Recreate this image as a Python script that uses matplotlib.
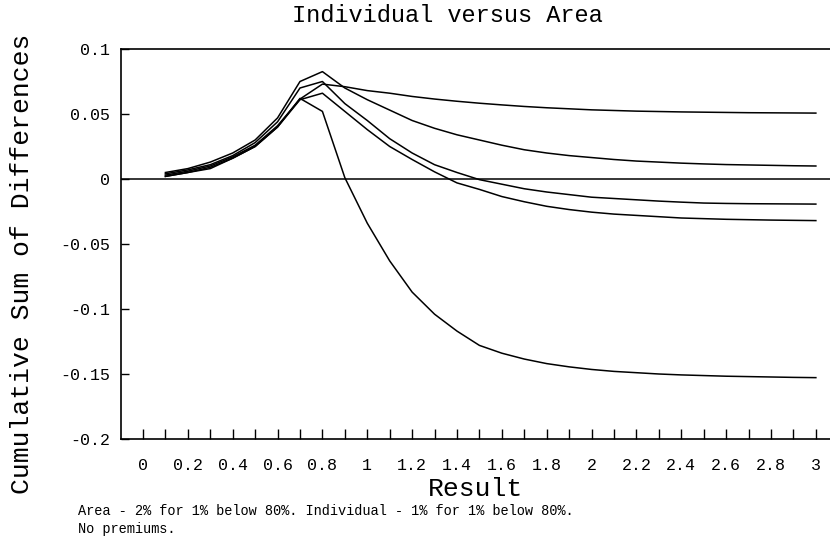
#!/usr/bin/env python3
"""
Cumulative sum of differences, individual versus area cover, by result level.
"""

import matplotlib

matplotlib.use("Agg")
import matplotlib.pyplot as plt

# result levels 0.1 .. 3.0
result = [0.1, 0.2, 0.3, 0.4, 0.5, 0.6, 0.7, 0.8, 0.9, 1.0,
          1.1, 1.2, 1.3, 1.4, 1.5, 1.6, 1.7, 1.8, 1.9, 2.0,
          2.1, 2.2, 2.3, 2.4, 2.5, 2.6, 2.7, 2.8, 2.9, 3.0]

series_a = [0.003, 0.006, 0.010, 0.017, 0.026, 0.041, 0.0615, 0.073, 0.071, 0.068,
            0.066, 0.0635, 0.0615, 0.0598, 0.0583, 0.057, 0.0558, 0.0548, 0.054, 0.0532,
            0.0527, 0.0522, 0.0519, 0.0516, 0.0514, 0.0512, 0.051, 0.0509, 0.0508, 0.0507]
series_b = [0.005, 0.008, 0.013, 0.020, 0.030, 0.047, 0.075, 0.0826, 0.070, 0.061,
            0.053, 0.045, 0.039, 0.034, 0.030, 0.026, 0.0225, 0.020, 0.018, 0.0165,
            0.015, 0.0138, 0.013, 0.0122, 0.0116, 0.0111, 0.0108, 0.0105, 0.0102, 0.010]
series_c = [0.004, 0.007, 0.011, 0.018, 0.028, 0.044, 0.070, 0.075, 0.058, 0.045,
            0.031, 0.020, 0.011, 0.005, -0.0005, -0.004, -0.0075, -0.010, -0.012, -0.014,
            -0.015, -0.016, -0.017, -0.0178, -0.0185, -0.0188, -0.019, -0.0191, -0.0192, -0.0193]
series_d = [0.002, 0.005, 0.009, 0.016, 0.025, 0.040, 0.061, 0.066, 0.052, 0.038,
            0.025, 0.015, 0.0055, -0.003, -0.008, -0.0135, -0.0175, -0.021, -0.0235, -0.0255,
            -0.027, -0.028, -0.029, -0.030, -0.0305, -0.031, -0.0313, -0.0316, -0.0318, -0.032]
series_e = [0.002, 0.005, 0.008, 0.016, 0.025, 0.040, 0.062, 0.052, 0.001, -0.034,
            -0.063, -0.087, -0.104, -0.117, -0.128, -0.134, -0.1385, -0.142, -0.1445, -0.1465,
            -0.148, -0.149, -0.150, -0.1507, -0.1512, -0.1517, -0.152, -0.1523, -0.1526, -0.1528]

x_ticks = [round(0.1 * i, 1) for i in range(31)]
x_labels = ["0", "", "0.2", "", "0.4", "", "0.6", "", "0.8", "", "1", "", "1.2", "", "1.4", "",
            "1.6", "", "1.8", "", "2", "", "2.2", "", "2.4", "", "2.6", "", "2.8", "", "3"]
y_ticks = [0.1, 0.05, 0.0, -0.05, -0.1, -0.15, -0.2]
y_labels = ["0.1", "0.05", "0", "-0.05", "-0.1", "-0.15", "-0.2"]

FONT = "Liberation Mono"


def main() -> None:
    fig = plt.figure(figsize=(8.3, 5.4), dpi=100)
    ax = fig.add_axes([121 / 830, 101 / 540, 709 / 830, 390 / 540])

    for ys in (series_a, series_b, series_c, series_d, series_e):
        ax.plot(result, ys, color="black", lw=1.1)

    ax.axhline(0.0, color="black", lw=1.1)

    ax.set_xlim(-0.098, 3.063)
    ax.set_ylim(-0.2, 0.1)

    ax.spines["right"].set_visible(False)
    for s in ("left", "top", "bottom"):
        ax.spines[s].set_linewidth(1.2)

    ax.set_xticks(x_ticks)
    ax.set_xticklabels(x_labels, fontfamily=FONT, fontsize=12)
    ax.set_yticks(y_ticks)
    ax.set_yticklabels(y_labels, fontfamily=FONT, fontsize=12)
    ax.tick_params(axis="x", direction="in", length=7, width=1, pad=14)
    ax.tick_params(axis="y", direction="in", length=6, width=1, pad=8)

    fig.text(447 / 830, 1 - 16 / 540, "Individual versus Area", ha="center", va="center",
             fontfamily=FONT, fontsize=17)
    fig.text(475 / 830, 1 - 489 / 540, "Result", ha="center", va="center",
             fontfamily=FONT, fontsize=19)
    fig.text(22 / 830, 1 - 264 / 540, "Cumulative Sum of Differences", ha="center", va="center",
             rotation=90, fontfamily=FONT, fontsize=19)
    fig.text(78 / 830, 1 - 511 / 540,
             "Area - 2% for 1% below 80%. Individual - 1% for 1% below 80%.",
             ha="left", va="center", fontfamily=FONT, fontsize=9.8)
    fig.text(78 / 830, 1 - 529 / 540, "No premiums.", ha="left", va="center",
             fontfamily=FONT, fontsize=9.8)

    fig.savefig("out.png", dpi=100)
    plt.close(fig)


if __name__ == "__main__":
    main()
